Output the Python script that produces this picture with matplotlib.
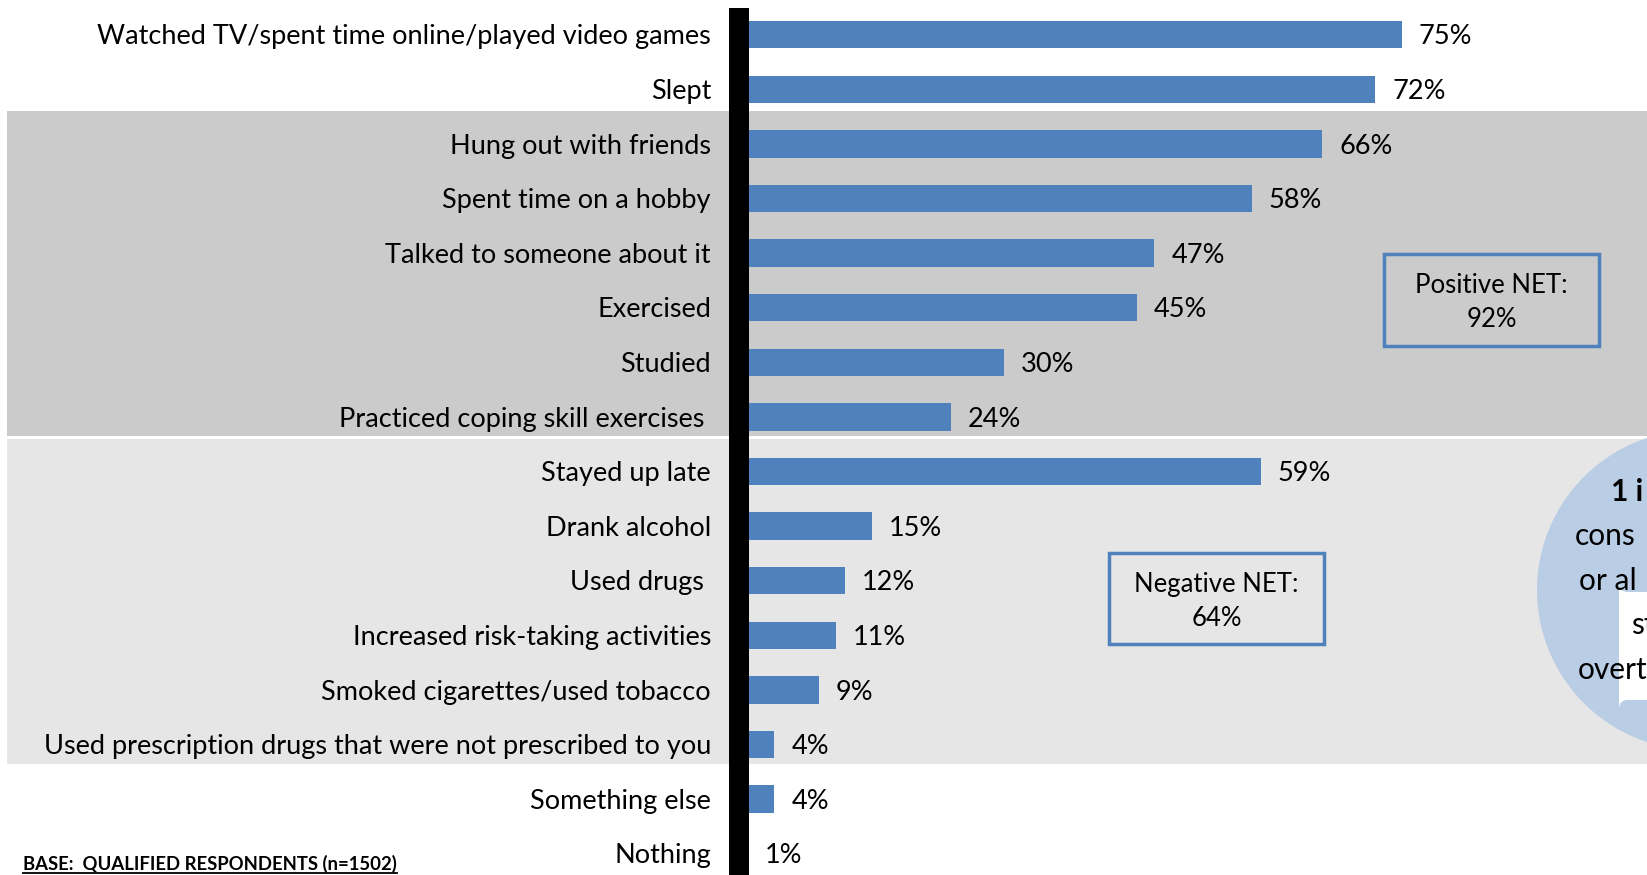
import matplotlib
matplotlib.use("Agg")
import matplotlib.pyplot as plt
from matplotlib.patches import Ellipse, FancyBboxPatch, Rectangle
from matplotlib.lines import Line2D

plt.rcParams["font.family"] = ["Lato", "DejaVu Sans"]

# -------------------------------
# Data
# -------------------------------
activities = [
    "Watched TV/spent time online/played video games",
    "Slept",
    "Hung out with friends",
    "Spent time on a hobby",
    "Talked to someone about it",
    "Exercised",
    "Studied",
    "Practiced coping skill exercises ",
    "Stayed up late",
    "Drank alcohol",
    "Used drugs ",
    "Increased risk-taking activities",
    "Smoked cigarettes/used tobacco",
    "Used prescription drugs that were not prescribed to you",
    "Something else",
    "Nothing",
]
percents = [75, 72, 66, 58, 47, 45, 30, 24, 59, 15, 12, 11, 9, 4, 4, 1]
positive_rows = (2, 7)
negative_rows = (8, 13)
positive_net = "Positive NET:\n92%"
negative_net = "Negative NET:\n64%"
circle_lines = ["1 i", "cons", "or al", "st", "overt"]
base_note = "BASE:  QUALIFIED RESPONDENTS (n=1502)"

# -------------------------------
# Layout (pixels of the 1647x875 canvas)
# -------------------------------
W, H = 1647, 875
x0 = 739          # pixel where 0% sits (hidden behind the black axis line)
px_per_pct = 8.84
row0 = 34.7       # pixel center of first row
row_step = 54.6

fig = plt.figure(figsize=(W / 100, H / 100), dpi=100)
ax = fig.add_axes([0, 0, 1, 1])
ax.set_xlim(-x0 / px_per_pct, (W - x0) / px_per_pct)
ax.set_ylim((H - row0) / row_step, -row0 / row_step)
ax.axis("off")


def px_x(p):
    return (p - x0) / px_per_pct


def px_y(p):
    return (p - row0) / row_step


# background bands
ax.axhspan(positive_rows[0] - 0.595, positive_rows[1] + 0.35,
           xmin=7 / W, xmax=1, color="#cbcbcb", lw=0, zorder=0)
ax.axhspan(negative_rows[0] - 0.595, negative_rows[1] + 0.35,
           xmin=7 / W, xmax=1, color="#e6e6e6", lw=0, zorder=0)

# circle callout
r_circ = 160
ax.add_patch(Ellipse((px_x(1697), px_y(590)), 2 * r_circ / px_per_pct,
                     2 * r_circ / row_step, color="#b9cde5", lw=0, zorder=1))
ax.add_patch(FancyBboxPatch((px_x(1619), px_y(700)), px_x(1700) - px_x(1619),
                            px_y(592) - px_y(700),
                            boxstyle="round,pad=0,rounding_size=1.0",
                            mutation_aspect=px_per_pct / row_step,
                            fc="white", ec="none", zorder=2))
circle_pos = [(1611, 492), (1575, 536), (1579, 581), (1631, 625), (1578, 670)]
for i, (txt, (cx, cy)) in enumerate(zip(circle_lines, circle_pos)):
    ax.text(px_x(cx), px_y(cy), txt, fontsize=21.5, ha="left", va="center",
            fontweight="bold" if i == 0 else "normal", color="black",
            clip_on=True, zorder=3)

# bars
rows = list(range(len(activities)))
ax.barh(rows, percents, height=0.5, left=0, color="#4f81bd", zorder=3)
ax.axvspan(px_x(729), px_x(749), ymin=0, ymax=(H - 8) / H,
           color="black", lw=0, zorder=4)

for r, name, v in zip(rows, activities, percents):
    ax.text(px_x(711), r + 0.04, name, ha="right", va="center",
            fontsize=19.5, zorder=5)
    ax.text(v + 17 / px_per_pct, r + 0.04, f"{v}%", ha="left", va="center",
            fontsize=19.5, zorder=5)

# NET boxes
for (l, t, r, b), txt in [((1384, 254, 1599, 346), positive_net),
                          ((1109, 553, 1324, 644), negative_net)]:
    ax.add_patch(Rectangle((px_x(l), px_y(b)), px_x(r) - px_x(l),
                           px_y(t) - px_y(b), fc="none", ec="#4f81bd",
                           lw=2.5, zorder=4))
    ax.text((px_x(l) + px_x(r)) / 2, (px_y(t) + px_y(b)) / 2 + 0.05, txt,
            ha="center", va="center", fontsize=18.5, linespacing=1.45,
            zorder=5)

# base note, underlined
note = fig.text(23 / W, 5 / H, base_note, fontsize=13.3,
                fontweight="bold", ha="left", va="baseline")
fig.canvas.draw()
bb = note.get_window_extent()
fig.add_artist(Line2D([bb.x0 / W, bb.x1 / W], [2.5 / H] * 2,
                      color="black", lw=1.3))

fig.savefig("out.png", dpi=100)
